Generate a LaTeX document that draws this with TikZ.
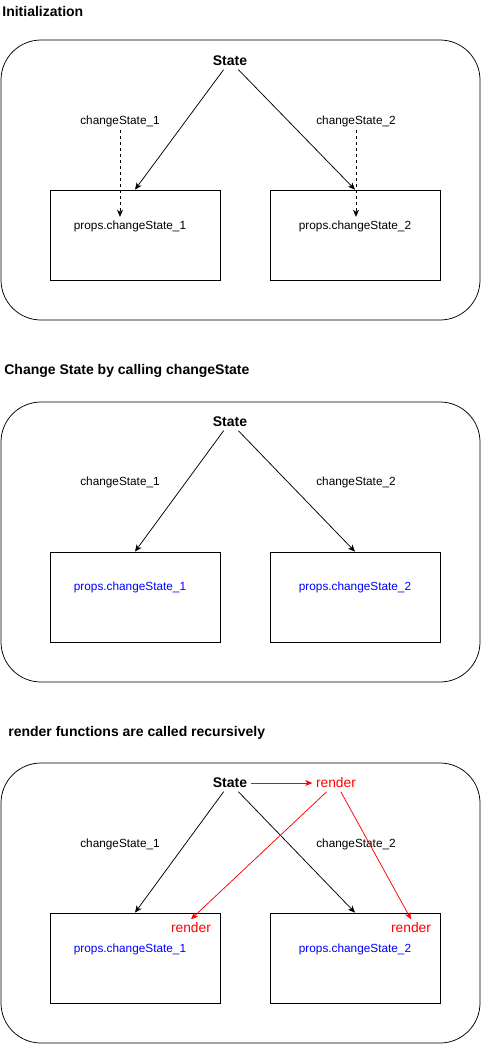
\documentclass[tikz,border=0pt]{standalone}
\usepackage{fontspec}
\setmainfont{Liberation Sans}
\usetikzlibrary{arrows.meta}
\tikzstyle{panel} = [rectangle, draw=black, rounded corners=40pt, inner sep=0pt, minimum width=479pt, minimum height=280pt]
\tikzstyle{box} = [rectangle, draw=black, inner sep=0pt, minimum width=170pt, minimum height=90pt]
\tikzstyle{title} = [anchor=west, inner sep=0pt, font=\bfseries\fontsize{14}{16}\selectfont]
\tikzstyle{state} = [font=\bfseries\fontsize{14}{16}\selectfont]
\tikzstyle{txt} = [font=\fontsize{11.8}{14}\selectfont]
\tikzstyle{bluetxt} = [txt, text=blue]
\tikzstyle{redtxt} = [text=red, font=\fontsize{13.8}{16}\selectfont]
\tikzstyle{arrow} = [->, >={Stealth[length=7pt,width=6pt,inset=2pt]}]
\tikzstyle{redarrow} = [arrow, draw=red]

\begin{document}
\begin{tikzpicture}[x=1pt, y=-1pt, line width=0.75pt]
	\useasboundingbox (0,0) rectangle (481,1044);

	% Initialization
	\node (title1) [title] at (2,11) {Initialization};
	\node (panel1) [panel] at (240.5,180) {};
	\node (state1) [state] at (230,61) {State};
	\node (boxL1) [box] at (135,235) {};
	\node (boxR1) [box] at (355,235) {};
	\node (cs11) [txt] at (120,121) {changeState\_1};
	\node (cs21) [txt] at (356,121) {changeState\_2};
	\node (pcs11) [txt] at (130,226) {props.changeState\_1};
	\node (pcs21) [txt] at (355,226) {props.changeState\_2};

	\draw [arrow] (state1) -- (boxL1.north);
	\draw [arrow] (state1) -- (boxR1.north);
	\draw [arrow, dash pattern=on 3pt off 3pt] (cs11.south) -- (cs11.south |- pcs11.north);
	\draw [arrow, dash pattern=on 3pt off 3pt] (cs21.south) -- (cs21.south |- pcs21.north);

	% Change State by calling changeState
	\node (title2) [title] at (4,371) {Change State by calling changeState};
	\node (panel2) [panel] at (240.5,542) {};
	\node (state2) [state] at (230,422) {State};
	\node (boxL2) [box] at (135,597) {};
	\node (boxR2) [box] at (355,597) {};
	\node (cs12) [txt] at (120,482) {changeState\_1};
	\node (cs22) [txt] at (356,482) {changeState\_2};
	\node (pcs12) [bluetxt] at (130,587) {props.changeState\_1};
	\node (pcs22) [bluetxt] at (355,587) {props.changeState\_2};

	\draw [arrow] (state2) -- (boxL2.north);
	\draw [arrow] (state2) -- (boxR2.north);

	% render functions are called recursively
	\node (title3) [title] at (8,733) {render functions are called recursively};
	\node (panel3) [panel] at (240.5,903) {};
	\node (state3) [state] at (230,783) {State};
	\node (render0) [redtxt] at (336,783) {render};
	\node (boxL3) [box] at (135,958) {};
	\node (boxR3) [box] at (355,958) {};
	\node (cs13) [txt] at (120,844) {changeState\_1};
	\node (cs23) [txt] at (356,844) {changeState\_2};
	\node (render1) [redtxt] at (191,928) {render};
	\node (render2) [redtxt] at (411,928) {render};
	\node (pcs13) [bluetxt] at (130,949) {props.changeState\_1};
	\node (pcs23) [bluetxt] at (355,949) {props.changeState\_2};

	\draw [arrow] (state3) -- (boxL3.north);
	\draw [arrow] (state3) -- (boxR3.north);
	\draw [redarrow] (state3) -- (render0);
	\draw [redarrow] (render0) -- (render1.north);
	\draw [redarrow] (render0) -- (render2.north);

\end{tikzpicture}
\end{document}
